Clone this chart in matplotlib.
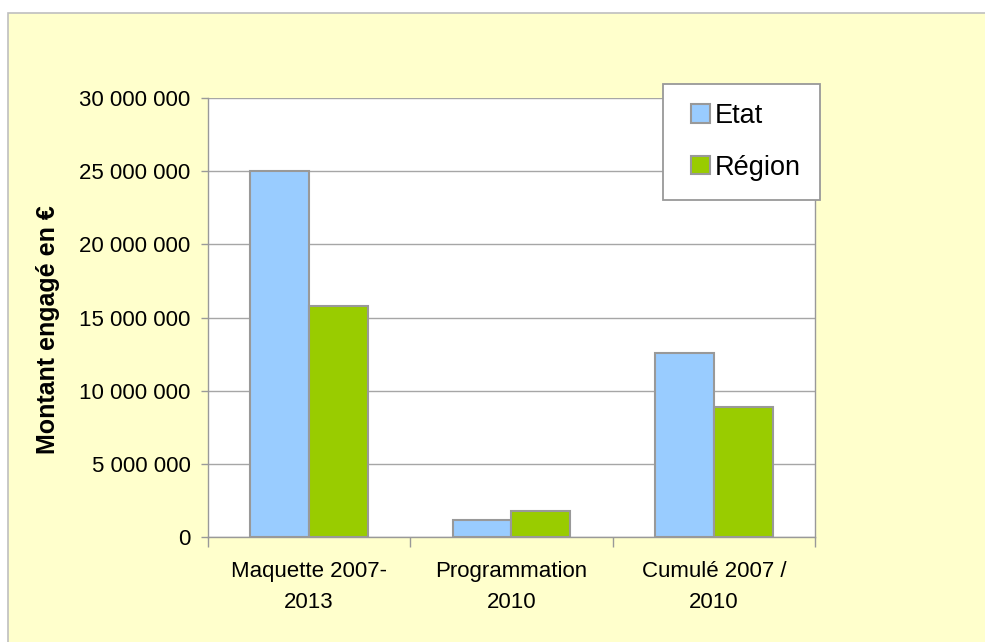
import matplotlib
matplotlib.use("Agg")
import matplotlib.pyplot as plt
from matplotlib.patches import Rectangle
from matplotlib.legend_handler import HandlerPatch
from matplotlib.container import BarContainer
import numpy as np

categories = ["Maquette 2007-\n2013", "Programmation\n2010", "Cumulé 2007 /\n2010"]
etat = [25000000, 1150000, 12600000]
region = [15800000, 1780000, 8900000]
yticks = [0, 5000000, 10000000, 15000000, 20000000, 25000000, 30000000]
ytick_labels = ["0", "5 000 000", "10 000 000", "15 000 000", "20 000 000", "25 000 000", "30 000 000"]

plt.rcParams['font.family'] = ['Liberation Sans', 'DejaVu Sans']

W, H = 985, 642
fig = plt.figure(figsize=(W / 100, H / 100), dpi=100)
fig.patch.set_facecolor("white")
# chart area background with gray border
bg = Rectangle((8 / W, -0.05), 1.0, 1 - 13 / H + 0.05, transform=fig.transFigure,
               facecolor="#FFFFCC", edgecolor="#BFBFBF", linewidth=1.2, zorder=-10)
fig.patches.append(bg)

ax = fig.add_axes([208 / W, 1 - 537 / H, (815 - 208) / W, (537 - 98) / H])
ax.set_facecolor("white")

x = np.arange(len(categories))
bw = 0.29
edge = "#999999"
ax.bar(x - bw / 2, etat, width=bw, color="#99CCFF", edgecolor=edge, linewidth=1.5, label="Etat", zorder=3)
ax.bar(x + bw / 2, region, width=bw, color="#99CC00", edgecolor=edge, linewidth=1.5, label="Région", zorder=3)

ax.set_xlim(-0.5, len(categories) - 0.5)
ax.set_ylim(0, 30000000)
ax.set_yticks(yticks)
ax.set_yticklabels(ytick_labels, fontsize=16)
ax.yaxis.grid(True, color="#A6A6A6", linewidth=1.0, zorder=0)
ax.set_axisbelow(True)

ax.set_xticks(x)
ax.set_xticklabels(categories, fontsize=16, linespacing=1.67)
ax.set_xticks(np.arange(-0.5, len(categories), 1.0), minor=True)
ax.tick_params(axis="x", which="major", length=0, pad=17)
ax.tick_params(axis="x", which="minor", length=7, color="#999999", width=1.0)
ax.tick_params(axis="y", length=5, color="#999999", width=1.0, pad=7.5)

for s in ax.spines.values():
    s.set_color("#999999")
    s.set_linewidth(1.0)
ax.spines["top"].set_visible(False)

ax.set_ylabel("Montant engagé en €", fontsize=18, fontweight="bold")
ax.yaxis.set_label_coords((60 - 208) / (815 - 208), (537 - 330) / (537 - 98))


def square_handle(legend, orig_handle, xdescent, ydescent, width, height, fontsize):
    s = height
    return Rectangle((-xdescent + width - s, -ydescent), s, s)


def update_square(legend_handle, orig_handle):
    src = orig_handle[0] if isinstance(orig_handle, BarContainer) else orig_handle
    legend_handle.update_from(src)


leg = fig.legend(loc="upper left", bbox_to_anchor=(663 / W, 1 - 84 / H), bbox_transform=fig.transFigure,
                 borderaxespad=0, fontsize=19.5, frameon=True, fancybox=False, shadow=False,
                 handlelength=1.02, handleheight=0.68, handletextpad=0.19, labelspacing=0.95,
                 borderpad=0.7,
                 handler_map={BarContainer: HandlerPatch(patch_func=square_handle,
                                                         update_func=update_square)})
fr = leg.get_frame()
fr.set_edgecolor("#999999")
fr.set_facecolor("white")
fr.set_alpha(1)
fr.set_linewidth(1.3)

fig.savefig("out.png", dpi=100)
